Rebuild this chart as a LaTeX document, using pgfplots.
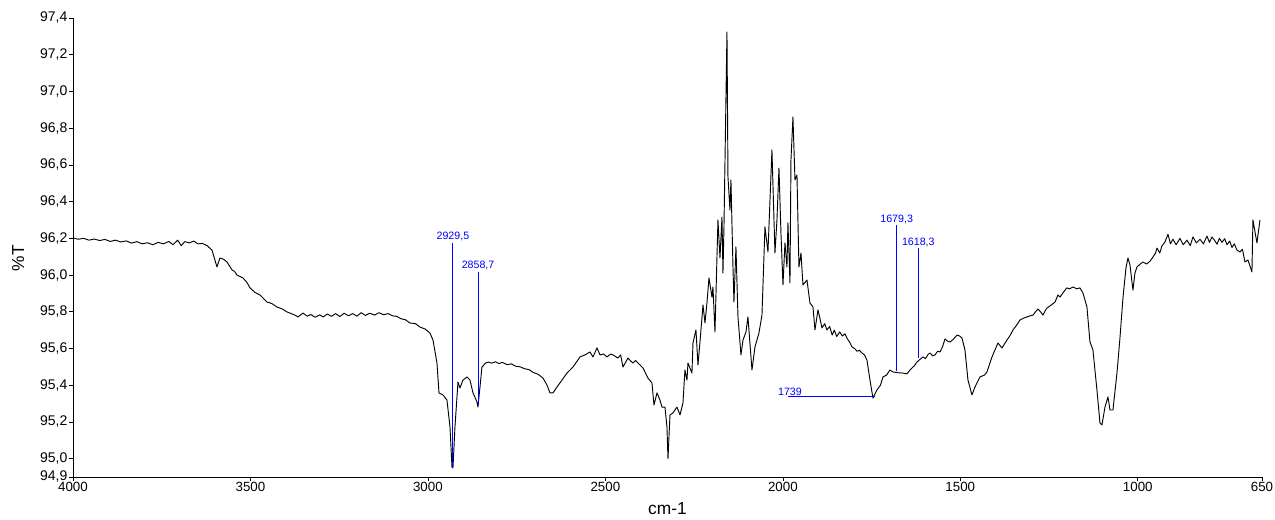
\documentclass[border=0pt]{standalone}
\usepackage{fontspec}
\setmainfont{Liberation Sans}
\usepackage{pgfplots}
\usepackage{pgfplotstable}
\pgfplotsset{compat=1.18}
\pgfplotstableread{
x y
4000 96.202
3985 96.195
3970 96.200
3955 96.190
3940 96.196
3925 96.188
3910 96.194
3895 96.183
3880 96.190
3865 96.180
3850 96.186
3835 96.174
3820 96.182
3805 96.170
3790 96.176
3775 96.165
3760 96.178
3745 96.170
3730 96.183
3718 96.165
3705 96.190
3695 96.160
3685 96.182
3672 96.175
3660 96.185
3648 96.170
3635 96.172
3622 96.160
3608.4 96.136
3594.3 96.044
3585.8 96.093
3575 96.085
3566.1 96.071
3552.0 96.028
3545 96.020
3537.9 96.000
3521.0 95.984
3510 95.960
3501.3 95.930
3487 95.905
3473.1 95.891
3462 95.870
3453.4 95.853
3440 95.845
3425.3 95.826
3410 95.815
3397 95.799
3385 95.790
3375 95.782
3366 95.772
3352 95.793
3340 95.776
3330 95.785
3318 95.770
3305 95.783
3295 95.772
3283 95.788
3272 95.775
3260 95.790
3248 95.774
3236 95.792
3224 95.778
3212 95.790
3200 95.776
3188 95.795
3176 95.780
3164 95.792
3150 95.782
3138 95.795
3125 95.784
3112 95.790
3100 95.778
3088 95.775
3076 95.762
3064 95.757
3050.5 95.739
3035 95.735
3022.4 95.717
3008 95.706
2994.2 95.684
2985.7 95.646
2974.5 95.521
2968.8 95.358
2957.6 95.347
2946.3 95.319
2937.8 95.172
2932.2 94.954
2929.4 94.949
2923.8 95.172
2915.3 95.417
2909.7 95.385
2901.2 95.428
2889.9 95.445
2881.5 95.428
2873.0 95.358
2861.8 95.309
2859.0 95.281
2853.3 95.390
2847.7 95.499
2838 95.520
2830 95.526
2820 95.520
2810 95.528
2800 95.518
2790 95.524
2777 95.512
2765 95.516
2752 95.503
2740 95.500
2728 95.490
2715 95.485
2704 95.470
2690 95.460
2675.8 95.439
2664.6 95.401
2656.1 95.358
2647.6 95.358
2636.4 95.390
2622.3 95.428
2608.2 95.466
2591.3 95.499
2580 95.530
2571.6 95.554
2557.5 95.565
2543.4 95.581
2535.0 95.554
2523.7 95.603
2515.2 95.565
2505 95.570
2495.5 95.554
2485 95.570
2478.6 95.565
2464.5 95.548
2457 95.565
2450.4 95.499
2436.3 95.548
2428 95.530
2422.3 95.521
2415 95.535
2408.2 95.521
2394.1 95.494
2380.0 95.439
2368.7 95.412
2363.1 95.292
2354.6 95.358
2346.2 95.319
2340.6 95.281
2332.1 95.281
2326.5 95.172
2323.6 95.000
2318.0 95.238
2309.6 95.249
2298.3 95.281
2289.8 95.238
2281.4 95.303
2275.8 95.483
2270.1 95.428
2267.3 95.521
2256.1 95.466
2253.2 95.630
2244.8 95.701
2239.1 95.510
2233.5 95.635
2225.0 95.837
2219.4 95.739
2213.8 95.848
2208.1 95.984
2199.7 95.880
2196.9 95.935
2191.2 95.690
2182.8 96.300
2177.1 96.093
2171.5 96.316
2168.7 96.011
2165.9 96.256
2157.4 97.324
2154.6 96.534
2149.0 96.354
2146.2 96.518
2140.5 96.044
2137.7 95.853
2132.1 96.153
2126.4 95.772
2118.0 95.565
2112.3 95.646
2103.9 95.690
2098.3 95.772
2087.0 95.483
2078.5 95.608
2067.3 95.684
2058.8 95.782
2050.4 96.262
2041.9 96.126
2030.7 96.681
2022.2 96.120
2016.6 96.300
2010.9 96.583
2005.3 96.229
1999.6 95.946
1994.0 96.175
1988.4 96.044
1985.6 96.284
1979.9 95.957
1977.1 96.627
1971.5 96.861
1965.8 96.518
1960.2 96.545
1954.6 96.044
1948.9 96.120
1943.3 95.946
1932.0 95.973
1923.6 95.848
1915.1 95.826
1909.5 95.701
1901.0 95.810
1895 95.760
1889.8 95.712
1882 95.735
1875.7 95.701
1868 95.720
1861 95.673
1855 95.700
1848 95.665
1840 95.690
1832 95.668
1825 95.680
1819 95.655
1812 95.635
1805 95.608
1798 95.600
1791 95.585
1784 95.590
1777 95.575
1770 95.565
1763.0 95.537
1754.5 95.428
1746.1 95.330
1734.8 95.374
1725 95.400
1717.9 95.445
1708 95.455
1698.2 95.483
1689.7 95.472
1675 95.468
1661.6 95.466
1650 95.462
1641.8 95.483
1630 95.505
1622.1 95.526
1614 95.540
1605.2 95.554
1598 95.545
1590 95.570
1585 95.575
1578 95.560
1571 95.565
1564 95.585
1557 95.581
1550 95.610
1543 95.652
1536 95.640
1529 95.635
1520 95.650
1509 95.673
1502 95.668
1495.3 95.657
1486.9 95.592
1478.4 95.428
1467.2 95.347
1458.7 95.390
1444.6 95.445
1432 95.455
1424.9 95.472
1410.8 95.554
1393.9 95.630
1382.6 95.603
1368.5 95.646
1360 95.670
1351.6 95.701
1342 95.725
1332 95.755
1322 95.765
1312 95.772
1303 95.778
1295 95.782
1288 95.800
1281 95.815
1274 95.800
1267 95.782
1261 95.805
1256 95.820
1245 95.835
1233 95.853
1225 95.891
1219 95.880
1210 95.905
1200 95.930
1192 95.925
1182 95.935
1172 95.925
1163 95.930
1154.4 95.902
1143.2 95.826
1134.7 95.636
1126.3 95.592
1115.0 95.374
1106.5 95.194
1100.9 95.183
1092.4 95.281
1084.0 95.336
1078.3 95.265
1069.9 95.265
1058.6 95.466
1050.2 95.657
1041.7 95.875
1033.3 96.038
1027.6 96.093
1022.0 96.055
1013.6 95.918
1007.9 96.011
1002.3 96.044
993 96.060
985.4 96.071
975 96.060
965.7 96.075
957.2 96.098
950 96.120
945.9 96.147
938 96.120
931.9 96.158
923.4 96.180
914.9 96.222
908 96.170
900.9 96.195
892 96.165
881.1 96.200
872 96.165
861.4 96.190
852 96.160
844.5 96.208
835 96.175
824.8 96.195
815 96.170
805.1 96.212
798 96.178
791.0 96.207
784 96.190
776.9 96.168
770 96.200
762.8 96.178
755 96.198
748.7 96.165
741 96.185
734.6 96.150
728 96.170
720.5 96.136
712.1 96.126
705 96.140
698.0 96.071
689.6 96.082
678.3 96.017
675.5 96.300
664.2 96.175
655.7 96.300
}\spectrum
\begin{document}
\begin{tikzpicture}
\path[use as bounding box] (-54.75pt,-31.5pt) rectangle (901.5pt,357.75pt);
\begin{axis}[
  at={(0pt,0pt)}, anchor=south west, scale only axis,
  width=891.75pt, height=344.25pt,
  xmin=650, xmax=4000, x dir=reverse,
  ymin=94.9, ymax=97.4,
  axis x line*=bottom, axis y line*=left,
  axis line style={black, line width=0.6pt},
  xtick={4000,3500,3000,2500,2000,1500,1000,650},
  ytick={94.9,95.0,95.2,95.4,95.6,95.8,96.0,96.2,96.4,96.6,96.8,97.0,97.2,97.4},
  tick align=outside, major tick length=3pt,
  tick style={black, line width=0.5pt},
  /pgf/number format/assume math mode=true,
  xticklabel style={/pgf/number format/1000 sep={}, font=\fontsize{10}{12}\selectfont, inner sep=1pt},
  yticklabel style={/pgf/number format/.cd, use comma, fixed, fixed zerofill, precision=1, 1000 sep={}, /tikz/.cd, font=\fontsize{10.5}{12}\selectfont, inner sep=1pt},
  xlabel={cm-1}, ylabel={\%T},
  xlabel style={at={(axis description cs:0.5,0)}, anchor=center, yshift=-23.5pt, font=\fontsize{13}{15}\selectfont},
  ylabel style={at={(axis description cs:-0.046,0.477)}, anchor=center, font=\fontsize{13}{15}\selectfont},
  clip=false,
]
\addplot[black, line width=0.7pt, line join=round] table[x=x, y=y] {\spectrum};
\addplot[blue, line width=0.7pt] coordinates {(2929.5,96.175) (2929.5,94.95)};
\addplot[blue, line width=0.7pt] coordinates {(2858.7,96.017) (2858.7,95.29)};
\addplot[blue, line width=0.7pt] coordinates {(1679.3,96.27) (1679.3,95.48)};
\addplot[blue, line width=0.7pt] coordinates {(1618.3,96.147) (1618.3,95.55)};
\addplot[blue, line width=0.7pt] coordinates {(1985,95.34) (1739,95.34)};
\node[blue, font=\fontsize{8}{9}\selectfont, anchor=south, inner sep=1pt] at (axis cs:2929.5,96.175) {2929,5};
\node[blue, font=\fontsize{8}{9}\selectfont, anchor=south, inner sep=1pt] at (axis cs:2858.7,96.017) {2858,7};
\node[blue, font=\fontsize{8}{9}\selectfont, anchor=south, inner sep=1pt] at (axis cs:1679.3,96.27) {1679,3};
\node[blue, font=\fontsize{8}{9}\selectfont, anchor=south, inner sep=1pt] at (axis cs:1618.3,96.147) {1618,3};
\node[blue, font=\fontsize{8}{9}\selectfont, anchor=south, inner sep=0.5pt] at (axis cs:1980,95.34) {1739};
\end{axis}
\end{tikzpicture}
\end{document}
